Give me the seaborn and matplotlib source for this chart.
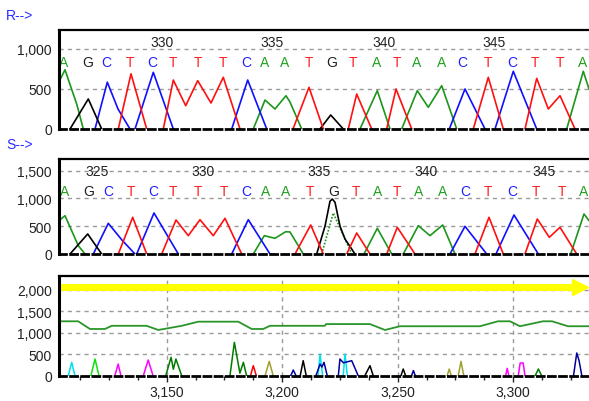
import numpy as np
import pandas as pd
import matplotlib
matplotlib.use("Agg")
import matplotlib.pyplot as plt
import seaborn as sns
from matplotlib.ticker import FuncFormatter, MultipleLocator, FixedLocator

# ---------------- data ----------------
BASE_SEQ = list("AGCTCTTTCAATGTATAACTCTTA")

R_LETTER_X = [63.3, 87.7, 106.7, 130, 152.7, 172.7, 197.7, 222.7, 246.7, 264.3, 285,
              309, 331.7, 353.3, 376.7, 396.7, 416.7, 441.7, 462.7, 488.3, 512.7, 535, 560, 582.7]
R_NUMS = [330, 335, 340, 345]
R_NUM_X = [161.7, 271.7, 384.3, 494]

S_LETTER_X = [65, 88.3, 108.3, 131, 153.3, 173.3, 198.3, 224, 246.7, 265.7, 286,
              310, 333.3, 355.7, 377.3, 397.3, 418.3, 442.3, 465, 488.3, 512.7, 536, 561.7, 583.3]
S_NUMS = [325, 330, 335, 340, 345]
S_NUM_X = [97, 203.3, 319.3, 426, 544]

# R trace segments (trace index, signal)
R_A = [([59, 65, 77, 83.3], [590, 740, 300, 0]),
       ([253.3, 265, 275, 286, 290, 301.7], [0, 362, 250, 416, 337, 0]),
       ([360, 377.3, 390], [0, 479, 0]),
       ([401.7, 417.3, 428.3, 441.7, 456.7], [0, 479, 271, 541, 0]),
       ([566.7, 583.3, 589], [0, 721, 500])]
R_C = [([95, 107.3, 118, 130], [0, 585, 250, 0]),
       ([135, 153.3, 173.3], [0, 708, 0]),
       ([231.7, 247.7, 266.7], [0, 612, 0]),
       ([449.3, 465, 485], [0, 500, 0]),
       ([495, 513.3, 536.7], [0, 721, 0])]
R_G = [([70, 88.3, 101.7], [0, 375, 0]),
       ([320, 330.7, 343.3], [0, 175, 0])]
R_T = [([118.3, 131, 146.7], [0, 690, 0]),
       ([163.3, 173.3, 185.7, 197.7, 211, 223.3, 240], [0, 612, 291, 604, 325, 646, 0]),
       ([293, 309, 323.3], [0, 521, 0]),
       ([348.3, 356.7, 371.7], [0, 437, 0]),
       ([386.7, 396, 411.7], [0, 500, 0]),
       ([473.3, 488.3, 503.3], [0, 646, 0]),
       ([525, 536.7, 548.3, 560, 575], [0, 633, 250, 416, 0])]

# S trace segments
S_A = [([59, 65, 78.3, 85], [600, 689, 150, 0]),
       ([253.3, 264.3, 275, 285.7, 290, 303.3], [0, 330, 282, 401, 396, 0]),
       ([364, 377.3, 391.7], [0, 462, 0]),
       ([403.3, 418.3, 430, 442.7, 455], [0, 510, 330, 522, 0]),
       ([570.7, 584, 589], [0, 720, 600])]
S_A_DOTTED = [([321.7, 333.3, 351.7], [0, 738, 0])]
S_C = [([93.3, 108.3, 122, 135], [0, 552, 250, 0]),
       ([136.7, 154, 178.3], [0, 738, 0]),
       ([231.7, 248.3, 270], [0, 617, 0]),
       ([450, 465, 486.7], [0, 498, 0]),
       ([496, 514, 538.3], [0, 702, 0])]
S_G = [([70, 87.7, 101.7], [0, 360, 0]),
       ([316.7, 325, 330, 332.3, 335, 340, 345, 355], [0, 500, 950, 989, 930, 500, 270, 0])]
S_T = [([118.3, 132.7, 146.7], [0, 660, 0]),
       ([161.7, 176, 188.3, 200, 213.3, 225, 241.7], [0, 612, 330, 617, 330, 642, 0]),
       ([295, 310.7, 323.3], [0, 522, 0]),
       ([346.7, 356.7, 370], [0, 378, 0]),
       ([386.7, 397.3, 415], [0, 480, 0]),
       ([475, 489, 503.3], [0, 660, 0]),
       ([525, 537.3, 549.3, 560, 576.7], [0, 630, 300, 480, 0])]

# Bottom panel (scan number)
BASELINE_X = [3103.4, 3111.7, 3116.8, 3123.3, 3126.2, 3141.3, 3146.4, 3156.5, 3163.7, 3181.0,
              3186.8, 3191.8, 3194.7, 3218.5, 3219.0, 3238.0, 3244.5, 3251.0, 3285.6, 3293.4,
              3298.6, 3302.9, 3312.9, 3316.8, 3323.7, 3332.8]
BASELINE_Y = [1265, 1265, 1086, 1086, 1160, 1160, 1063, 1160, 1256, 1256,
              1086, 1086, 1160, 1160, 1200, 1200, 1063, 1150, 1150, 1265,
              1265, 1150, 1265, 1265, 1150, 1150]
CLEAR_RANGE = [3103.4, 3329.0]
CLEAR_LEVEL = 2065

P_CYAN = [([3107.4, 3108.9, 3110.3], [0, 311, 0]),
          ([3215.5, 3216.4, 3217.5], [0, 504, 0]),
          ([3226.4, 3227.2, 3228.2], [0, 504, 0])]
P_LIME = [([3117.2, 3119.0, 3120.7], [0, 388, 0])]
P_MAGENTA = [([3127.6, 3129.0, 3130.2], [0, 271, 0]),
             ([3139.9, 3142.0, 3144.1], [0, 364, 0]),
             ([3296.7, 3297.4, 3298.1], [0, 171, 0]),
             ([3302.2, 3303.0, 3304.3, 3305.1], [0, 295, 295, 0])]
P_DKGREEN = [([3149.6, 3151.9, 3152.9, 3154.0, 3156.5], [0, 427, 150, 388, 0]),
             ([3177.4, 3179.3, 3181.7, 3183.2, 3184.6], [0, 776, 60, 311, 0]),
             ([3309.5, 3310.9, 3312.3], [0, 155, 0])]
P_RED = [([3186.3, 3187.5, 3188.8], [0, 233, 0])]
P_OLIVE = [([3192.6, 3194.4, 3196.1], [0, 334, 0]),
           ([3271.4, 3272.3, 3273.2], [0, 155, 0]),
           ([3276.2, 3277.4, 3278.6], [0, 334, 0])]
P_NAVY = [([3203.7, 3204.8, 3206.0], [0, 132, 0]),
          ([3214.6, 3216.4, 3217.2, 3218.1, 3219.5], [0, 270, 200, 311, 0]),
          ([3224.3, 3225.0, 3226.5, 3230.1, 3232.9], [0, 388, 300, 349, 0]),
          ([3256.0, 3256.8, 3257.6], [0, 120, 0]),
          ([3326.1, 3327.5, 3328.5, 3329.7], [0, 528, 350, 0])]
P_BLACK = [([3207.8, 3209.1, 3210.4], [0, 349, 0]),
           ([3235.8, 3238.0, 3239.4], [0, 233, 0]),
           ([3251.4, 3252.4, 3253.4], [0, 155, 0])]

# ---------------- styling ----------------
sns.set_style("white")
plt.rcParams["font.family"] = ["Liberation Sans", "DejaVu Sans"]

TRACE_COLORS = {"A": "#1c961c", "C": "#1010ff", "G": "#000000", "T": "#ff1010"}
LETTER_COLORS = {"A": "#22a022", "C": "#2020ff", "G": "#202020", "T": "#ff2020"}
PEAK_COLORS = {"cyan": "#00e0f0", "lime": "#10e010", "magenta": "#ff00ff",
               "dkgreen": "#007a00", "red": "#ff0000", "olive": "#a0a030",
               "navy": "#00009a", "black": "#000000"}
GRID_KW = dict(color="#9a9a9a", linestyle=(0, (3, 3)), linewidth=1.0)

W, H = 589, 402
fig = plt.figure(figsize=(W / 100, H / 100), dpi=100)


def frame(groups):
    rows = []
    for key, segs in groups.items():
        for i, (xs, ys) in enumerate(segs):
            for x, y in zip(xs, ys):
                rows.append((key, f"{key}{i}", x, y))
    return pd.DataFrame(rows, columns=["key", "seg", "x", "y"])


def style_axis(ax, ymax, yticks):
    ax.set_ylim(0, ymax)
    ax.set_yticks(yticks)
    ax.yaxis.set_major_formatter(FuncFormatter(lambda v, p: f"{int(v):,}"))
    for yv in yticks[1:]:
        ax.axhline(yv, zorder=0, **GRID_KW)
    ax.spines["right"].set_visible(False)
    ax.spines["left"].set_linewidth(2.2)
    ax.spines["top"].set_linewidth(1.6)
    ax.spines["bottom"].set_linewidth(2.0)
    ax.spines["bottom"].set_linestyle((0, (2.5, 1.5)))
    for s in ax.spines.values():
        s.set_color("black")
        s.set_zorder(5)
    ax.tick_params(axis="y", length=3, width=1, pad=2, labelsize=10, labelcolor="#222222")
    ax.set_xlabel("")
    ax.set_ylabel("")


def px_ax(top, bottom):
    return fig.add_axes([59 / W, 1 - bottom / H, (W - 59) / W, (bottom - top) / H])


# ---- R panel ----
ax1 = px_ax(31, 130)
dfR = frame({"A": R_A, "C": R_C, "G": R_G, "T": R_T})
sns.lineplot(data=dfR, x="x", y="y", hue="key", units="seg", estimator=None, sort=False,
             palette=TRACE_COLORS, legend=False, linewidth=1.2, ax=ax1)
ax1.set_xlim(59, 589)
style_axis(ax1, 1237, [0, 500, 1000])
ax1.set_xticks([])
for b, x in zip(BASE_SEQ, R_LETTER_X):
    ax1.text(x, 834, b, color=LETTER_COLORS[b], fontsize=10, ha="center", va="center")
for n, x in zip(R_NUMS, R_NUM_X):
    ax1.text(x, 1091, str(n), color="#222222", fontsize=10, ha="center", va="center")

# ---- S panel ----
ax2 = px_ax(160, 255)
dfS = frame({"A": S_A, "C": S_C, "G": S_G, "T": S_T})
dfSd = frame({"A": S_A_DOTTED})
sns.lineplot(data=dfSd, x="x", y="y", hue="key", units="seg", estimator=None, sort=False,
             palette=TRACE_COLORS, legend=False, linewidth=1.2, linestyle=(0, (1, 1)), ax=ax2)
sns.lineplot(data=dfS, x="x", y="y", hue="key", units="seg", estimator=None, sort=False,
             palette=TRACE_COLORS, legend=False, linewidth=1.2, ax=ax2)
ax2.set_xlim(59, 589)
style_axis(ax2, 1709, [0, 500, 1000, 1500])
ax2.set_xticks([])
for b, x in zip(BASE_SEQ, S_LETTER_X):
    ax2.text(x, 1139, b, color=LETTER_COLORS[b], fontsize=10, ha="center", va="center")
for n, x in zip(S_NUMS, S_NUM_X):
    ax2.text(x, 1500, str(n), color="#222222", fontsize=10, ha="center", va="center")

# ---- bottom panel ----
ax3 = px_ax(276.7, 376.7)
dfP = frame({"cyan": P_CYAN, "lime": P_LIME, "magenta": P_MAGENTA, "dkgreen": P_DKGREEN,
             "red": P_RED, "olive": P_OLIVE, "navy": P_NAVY, "black": P_BLACK})
sns.lineplot(data=dfP, x="x", y="y", hue="key", units="seg", estimator=None, sort=False,
             palette=PEAK_COLORS, legend=False, linewidth=1.1, ax=ax3)
sns.lineplot(x=BASELINE_X, y=BASELINE_Y, color="#2a962a", linewidth=1.3, ax=ax3)
sns.lineplot(x=CLEAR_RANGE, y=[CLEAR_LEVEL] * 2, color="#ffff00", linewidth=5, ax=ax3,
             solid_capstyle="butt")
ax3.plot(CLEAR_RANGE[1:], [CLEAR_LEVEL], marker=">", markersize=11, color="#ffff00",
         markeredgecolor="#ffff00")
ax3.set_xlim(3103.4, 3332.8)
style_axis(ax3, 2325, [0, 500, 1000, 1500, 2000])
ax3.xaxis.set_major_locator(FixedLocator([3150, 3200, 3250, 3300]))
ax3.xaxis.set_minor_locator(MultipleLocator(12.5))
ax3.xaxis.set_major_formatter(FuncFormatter(lambda v, p: f"{int(v):,}"))
for xv in [3150, 3200, 3250, 3300]:
    ax3.axvline(xv, zorder=0, **GRID_KW)
ax3.tick_params(axis="x", which="both", length=4, width=1, pad=3, labelsize=10,
                labelcolor="#222222", bottom=True, direction="out")
ax3.tick_params(axis="x", which="minor", length=3)

# ---- panel tags ----
fig.text(6 / W, 1 - 16.5 / H, "R-->", color="#2a2aff", fontsize=10, ha="left", va="center")
fig.text(6 / W, 1 - 145 / H, "S-->", color="#2a2aff", fontsize=10, ha="left", va="center")

fig.savefig("out.png", dpi=100)
